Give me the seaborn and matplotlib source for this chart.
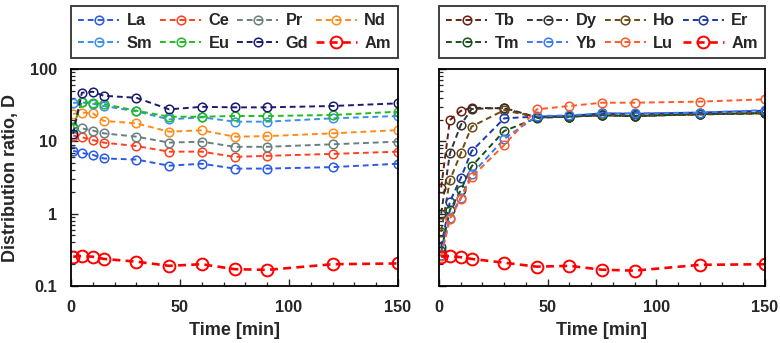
import matplotlib
matplotlib.use("Agg")
import matplotlib.pyplot as plt
import matplotlib.ticker as mticker
import seaborn as sns
import pandas as pd

# ---------------- data ----------------
time_min = [1, 5, 10, 15, 30, 45, 60, 75, 90, 120, 150]

left_names = ["La", "Ce", "Pr", "Nd", "Sm", "Eu", "Gd", "Am"]
La = [7.4, 6.9, 6.5, 5.8, 5.6, 4.6, 4.9, 4.2, 4.2, 4.4, 4.9]
Ce = [12.0, 11.4, 10.4, 9.6, 8.6, 7.2, 7.2, 6.1, 6.3, 6.7, 7.2]
Pr = [15.5, 15.1, 14.1, 12.9, 11.6, 9.6, 9.9, 8.4, 8.4, 9.1, 9.9]
Nd = [23.9, 25.0, 24.4, 19.2, 17.7, 13.6, 14.2, 11.6, 11.8, 12.9, 14.3]
Sm = [34.0, 34.5, 33.0, 30.8, 26.0, 20.1, 21.5, 18.7, 18.7, 20.8, 22.4]
Eu = [16.0, 35.3, 34.0, 32.8, 26.5, 21.9, 21.9, 22.4, 22.4, 23.1, 25.7]
Gd = [12.7, 47.0, 48.5, 42.7, 40.0, 27.7, 30.0, 29.5, 29.5, 30.8, 33.5]
Am_left = [0.254, 0.26, 0.254, 0.237, 0.217, 0.19, 0.20, 0.171, 0.167, 0.20, 0.205]

right_names = ["Tb", "Dy", "Ho", "Er", "Tm", "Yb", "Lu", "Am"]
Tb = [2.3, 19.7, 26.3, 29.2, 28.5, 21.4, 22.0, 23.0, 22.4, 23.6, 24.4]
Dy = [1.0, 6.8, 16.8, 28.0, 29.0, 21.5, 22.0, 23.0, 22.4, 23.6, 24.4]
Ho = [0.56, 2.9, 6.8, 16.0, 27.0, 21.5, 22.0, 23.2, 22.6, 23.8, 24.6]
Er = [0.35, 1.46, 3.1, 7.3, 20.8, 22.0, 22.4, 24.4, 24.0, 25.0, 26.5]
Tm = [0.30, 1.12, 2.1, 4.5, 13.9, 21.0, 22.0, 22.8, 22.4, 23.8, 24.6]
Yb = [0.27, 0.88, 1.66, 3.5, 10.8, 22.4, 22.8, 24.4, 24.4, 25.0, 27.0]
Lu = [0.26, 0.84, 1.6, 3.2, 8.9, 27.7, 30.8, 34.2, 34.2, 35.4, 38.1]
Am_right = [0.254, 0.26, 0.25, 0.237, 0.21, 0.185, 0.19, 0.168, 0.163, 0.196, 0.20]

left_colors = ["#2a5ae6", "#ff4020", "#6a7f7f", "#ff8c1a", "#3a90f0", "#22bb22", "#1a1a70", "#ff0000"]
right_colors = ["#6b1f10", "#333333", "#6b4a14", "#1a3aa8", "#1a4d1a", "#3a7af0", "#ff5a28", "#ff0000"]

y_ticks = [0.1, 1, 10, 100]
y_tick_labels = ["0.1", "1", "10", "100"]
x_ticks = [0, 50, 100, 150]

# ---------------- style ----------------
sns.set_style("ticks")
plt.rcParams["font.family"] = ["Liberation Sans", "DejaVu Sans"]
plt.rcParams["font.weight"] = "bold"
plt.rcParams["axes.labelweight"] = "bold"

fig = plt.figure(figsize=(7.8, 3.43), dpi=100)
ax_l = fig.add_axes([71 / 780, 1 - 286 / 343, 327 / 780, 217 / 343])
ax_r = fig.add_axes([439 / 780, 1 - 286 / 343, 326 / 780, 217 / 343])

left_series = [La, Ce, Pr, Nd, Sm, Eu, Gd, Am_left]
right_series = [Tb, Dy, Ho, Er, Tm, Yb, Lu, Am_right]


def draw(ax, names, series, colors):
    for name, vals, col in zip(names, series, colors):
        df = pd.DataFrame({"t": time_min, "D": vals})
        is_am = name == "Am"
        sns.lineplot(
            data=df, x="t", y="D", ax=ax, color=col, estimator=None,
            marker="o", markersize=8.5 if is_am else 6.2,
            markerfacecolor="none", markeredgecolor=col,
            markeredgewidth=1.4 if is_am else 1.1,
            linewidth=1.9 if is_am else 1.4,
            linestyle=(0, (3, 2)), label=name,
        )


draw(ax_l, left_names, left_series, left_colors)
draw(ax_r, right_names, right_series, right_colors)

for i, ax in enumerate([ax_l, ax_r]):
    ax.set_yscale("log")
    ax.set_ylim(0.1, 100)
    ax.set_xlim(0, 150)
    ax.yaxis.set_major_locator(mticker.FixedLocator(y_ticks))
    ax.yaxis.set_minor_locator(mticker.LogLocator(base=10, subs=range(2, 10)))
    ax.yaxis.set_minor_formatter(mticker.NullFormatter())
    if i == 0:
        ax.yaxis.set_major_formatter(mticker.FixedFormatter(y_tick_labels))
        ax.set_ylabel("Distribution ratio, D", fontsize=13, fontweight="bold", labelpad=8)
    else:
        ax.yaxis.set_major_formatter(mticker.NullFormatter())
        ax.set_ylabel("")
    ax.xaxis.set_major_locator(mticker.FixedLocator(x_ticks))
    ax.xaxis.set_minor_locator(mticker.MultipleLocator(10))
    ax.set_xlabel("Time [min]", fontsize=13, fontweight="bold", labelpad=5)
    ax.tick_params(axis="both", which="major", direction="in", length=5, width=1.0,
                   labelsize=11.7, pad=10, top=False, right=False)
    ax.tick_params(axis="both", which="minor", direction="in", length=3, width=0.9,
                   top=False, right=False)
    for lab in ax.get_xticklabels() + ax.get_yticklabels():
        lab.set_fontweight("bold")
    for sp in ax.spines.values():
        sp.set_visible(True)
        sp.set_linewidth(1.3)
        sp.set_color("black")

    handles, labels = ax.get_legend_handles_labels()
    # reorder so that entries read row by row (4 columns x 2 rows)
    order = [0, 4, 1, 5, 2, 6, 3, 7]
    handles = [handles[k] for k in order]
    labels = [labels[k] for k in order]
    leg = ax.legend(handles, labels, loc="lower left", bbox_to_anchor=(0, 1.05, 1, 0.25),
                    mode="expand", ncol=4, frameon=True, fancybox=False,
                    handlelength=2.5, handletextpad=0.45, columnspacing=0.8,
                    labelspacing=0.45, borderpad=0.45, borderaxespad=0.0,
                    prop={"weight": "bold", "size": 11.8})
    leg.get_frame().set_edgecolor("black")
    leg.get_frame().set_linewidth(1.3)

fig.savefig("out.png", dpi=100)
